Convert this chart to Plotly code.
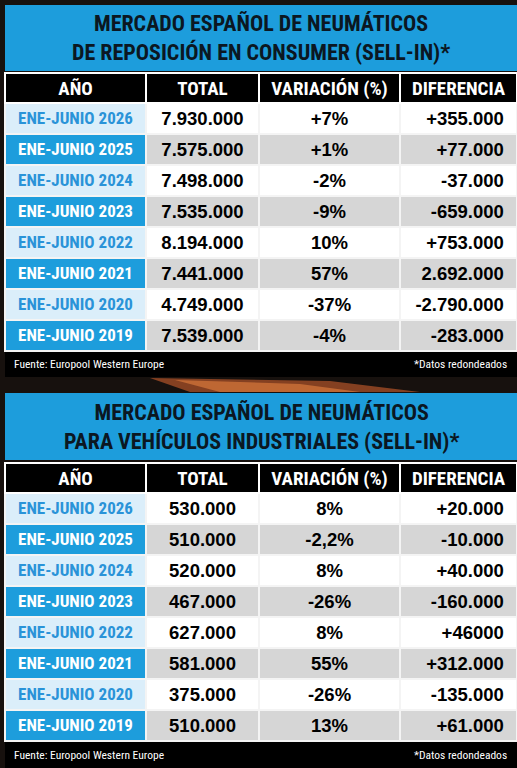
import plotly.graph_objects as go

# data
years = ["ENE-JUNIO 2026", "ENE-JUNIO 2025", "ENE-JUNIO 2024", "ENE-JUNIO 2023",
         "ENE-JUNIO 2022", "ENE-JUNIO 2021", "ENE-JUNIO 2020", "ENE-JUNIO 2019"]
columns = ["AÑO", "TOTAL", "VARIACIÓN (%)", "DIFERENCIA"]

consumer_total = ["7.930.000", "7.575.000", "7.498.000", "7.535.000",
                  "8.194.000", "7.441.000", "4.749.000", "7.539.000"]
consumer_var = ["+7%", "+1%", "-2%", "-9%", "10%", "57%", "-37%", "-4%"]
consumer_diff = ["+355.000", "+77.000", "-37.000", "-659.000",
                 "+753.000", "2.692.000", "-2.790.000", "-283.000"]

industrial_total = ["530.000", "510.000", "520.000", "467.000",
                    "627.000", "581.000", "375.000", "510.000"]
industrial_var = ["8%", "-2,2%", "8%", "-26%", "8%", "55%", "-26%", "13%"]
industrial_diff = ["+20.000", "-10.000", "+40.000", "-160.000",
                   "+46000", "+312.000", "-135.000", "+61.000"]

titles = ["MERCADO ESPAÑOL DE NEUMÁTICOS<br>DE REPOSICIÓN EN CONSUMER (SELL-IN)*",
          "MERCADO ESPAÑOL DE NEUMÁTICOS<br>PARA VEHÍCULOS INDUSTRIALES (SELL-IN)*"]
source = "Fuente: Europool Western Europe"
note = "*Datos redondeados"

# style
W, H = 517, 768
COND = "Roboto Condensed, Liberation Sans Narrow, DejaVu Sans Condensed, sans-serif"
NUM = "Liberation Sans, Arial, sans-serif"
BLUE = "#1d9ddc"
LIGHT = "#dbeefa"
GREY = "#d6d6d6"
YEARTXT = "#2a93d8"

def py(y):
    return 1 - y / H

def px(x):
    return x / W

n = len(years)
year_fill = [LIGHT if i % 2 == 0 else BLUE for i in range(n)]
year_font = [YEARTXT if i % 2 == 0 else "white" for i in range(n)]
body_fill = ["white" if i % 2 == 0 else GREY for i in range(n)]


def make_table(total, var, diff, top):
    return go.Table(
        domain=dict(x=[px(5), 1], y=[py(top + 282), py(top)]),
        columnwidth=[141, 113, 141, 117],
        header=dict(
            values=columns,
            fill_color="black",
            line=dict(color="white", width=2),
            align="center",
            height=30,
            font=dict(family=COND, size=19, color="white", weight="bold"),
        ),
        cells=dict(
            values=[years, total, var, diff],
            fill_color=[year_fill, body_fill, body_fill, body_fill],
            line=dict(color="#f4f4f4", width=1.5),
            align=["center", "center", "center", "right"],
            suffix=["", "", "", "\u00a0"],
            height=31,
            font=dict(family=[COND, NUM, NUM, NUM], size=[17, 18.5, 18.5, 18.5],
                      color=[year_font, "black", "black", "black"], weight="bold"),
        ),
    )


fig = go.Figure()
fig.add_trace(make_table(consumer_total, consumer_var, consumer_diff, 73))
fig.add_trace(make_table(industrial_total, industrial_var, industrial_diff, 463))

shapes = []
annotations = []
for title, ttop, tbot, ftop, fbot in [(titles[0], 5, 71, 351, 377),
                                       (titles[1], 393, 460, 741, 768)]:
    shapes.append(dict(type="rect", xref="paper", yref="paper", layer="below",
                       x0=px(5), x1=1, y0=py(tbot), y1=py(ttop),
                       fillcolor=BLUE, line_width=0))
    shapes.append(dict(type="rect", xref="paper", yref="paper", layer="below",
                       x0=px(5), x1=1, y0=py(fbot), y1=py(ftop),
                       fillcolor="black", line_width=0))
    annotations.append(dict(text=title, xref="paper", yref="paper",
                            x=px(261), y=py((ttop + tbot) / 2), showarrow=False,
                            xanchor="center", yanchor="middle",
                            font=dict(family=COND, size=22, color="#0b1722", weight="bold")))
    annotations.append(dict(text=source, xref="paper", yref="paper",
                            x=px(12), y=py((ftop + fbot) / 2), showarrow=False,
                            xanchor="left", yanchor="middle",
                            font=dict(family=COND, size=11.5, color="white")))
    annotations.append(dict(text=note, xref="paper", yref="paper",
                            x=px(509), y=py((ftop + fbot) / 2), showarrow=False,
                            xanchor="right", yanchor="middle",
                            font=dict(family=COND, size=11.5, color="white")))

# orange streak in the background between the two tables
shapes.append(dict(type="path", xref="paper", yref="paper", layer="below",
                   path=f"M {px(150)},{py(378)} L {px(330)},{py(381)} L {px(420)},{py(392)} L {px(190)},{py(392)} Z",
                   fillcolor="rgba(170,80,40,0.75)", line_width=0))
shapes.append(dict(type="path", xref="paper", yref="paper", layer="below",
                   path=f"M {px(175)},{py(380)} L {px(300)},{py(384)} L {px(360)},{py(392)} L {px(220)},{py(392)} Z",
                   fillcolor="rgba(215,120,60,0.7)", line_width=0))

fig.update_layout(
    width=W, height=H,
    margin=dict(t=0, b=0, l=0, r=0),
    paper_bgcolor="#17110e",
    plot_bgcolor="#17110e",
    shapes=shapes,
    annotations=annotations,
)
fig.write_html("out.html", config={"displayModeBar": False},
               post_script="document.body.style.margin='0px';")
